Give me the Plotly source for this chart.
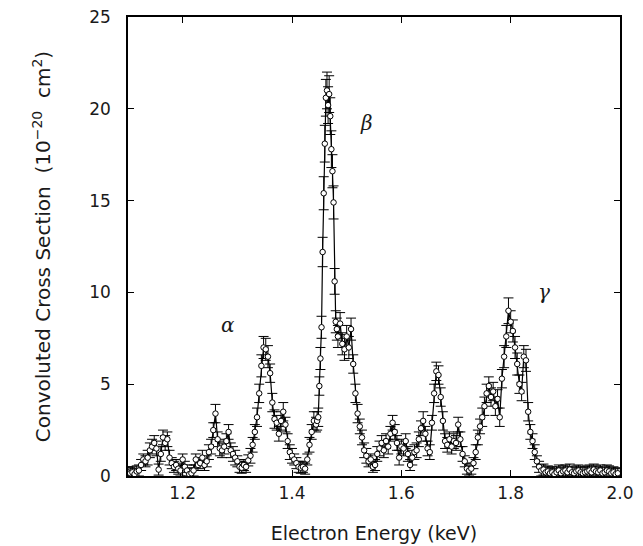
import plotly.graph_objects as go

# Electron energy (keV)
energy = [
    1.100, 1.104, 1.108, 1.112, 1.116, 1.120, 1.124, 1.128, 1.132, 1.136,
    1.140, 1.144, 1.148, 1.152, 1.156, 1.160, 1.164, 1.168, 1.172, 1.176,
    1.180, 1.184, 1.188, 1.192, 1.196, 1.200, 1.204, 1.208, 1.212, 1.216,
    1.220, 1.224, 1.228, 1.232, 1.236, 1.240, 1.244, 1.248, 1.252, 1.256,
    1.260, 1.264, 1.268, 1.272, 1.276, 1.280, 1.284, 1.288, 1.292, 1.296,
    1.300, 1.304, 1.308, 1.312, 1.316, 1.320, 1.324, 1.328, 1.332, 1.336,
    1.340, 1.344, 1.348, 1.352, 1.356, 1.360, 1.364, 1.368, 1.372, 1.376,
    1.380, 1.384, 1.388, 1.392, 1.396, 1.400, 1.404, 1.408, 1.412, 1.416,
    1.420, 1.424, 1.428, 1.432, 1.436, 1.440, 1.444,
    1.446, 1.448, 1.450, 1.452, 1.454, 1.456, 1.458, 1.460, 1.462, 1.464,
    1.466, 1.468, 1.470, 1.472, 1.474, 1.476, 1.478, 1.480, 1.482, 1.484,
    1.488, 1.492, 1.496, 1.500, 1.504, 1.508, 1.512, 1.516, 1.520,
    1.524, 1.528, 1.532, 1.536, 1.540, 1.544, 1.548, 1.552, 1.556,
    1.560, 1.564, 1.568, 1.572, 1.576, 1.580, 1.584, 1.588, 1.592, 1.596,
    1.600, 1.604, 1.608, 1.612, 1.616, 1.620, 1.624, 1.628, 1.632, 1.636,
    1.640, 1.644, 1.648, 1.652, 1.656, 1.660, 1.664, 1.668, 1.672, 1.676,
    1.680, 1.684, 1.688, 1.692, 1.696, 1.700, 1.704, 1.708, 1.712, 1.716,
    1.720, 1.724, 1.728, 1.732, 1.736, 1.740, 1.744, 1.748, 1.752, 1.756,
    1.760, 1.764, 1.768, 1.772, 1.776, 1.780, 1.784, 1.788, 1.792, 1.796,
    1.800, 1.804, 1.808, 1.812, 1.816, 1.820, 1.824, 1.828, 1.832, 1.836,
    1.840, 1.844, 1.848, 1.852, 1.856, 1.860, 1.864, 1.868, 1.872, 1.876,
    1.880, 1.884, 1.888, 1.892, 1.896, 1.900, 1.904, 1.908, 1.912, 1.916,
    1.920, 1.924, 1.928, 1.932, 1.936, 1.940, 1.944, 1.948, 1.952, 1.956,
    1.960, 1.964, 1.968, 1.972, 1.976, 1.980, 1.984, 1.988, 1.992, 1.996,
]

# Convoluted cross section (1e-20 cm^2)
cross_section = [
    0.20, 0.15, 0.20, 0.10, 0.25, 0.30, 0.60, 0.90, 0.80, 1.00,
    1.40, 1.60, 1.80, 1.50, 0.35, 1.20, 2.10, 1.80, 2.00, 1.00,
    0.70, 0.50, 0.60, 0.40, 0.30, 0.90, 0.50, 0.30, 0.10, 0.15,
    0.30, 0.90, 0.60, 0.70, 1.00, 0.60, 0.80, 1.30, 1.60, 2.50,
    3.40, 2.00, 1.50, 1.40, 1.60, 1.90, 2.40, 1.40, 1.20, 1.00,
    0.80, 0.50, 0.45, 0.60, 0.50, 0.85, 1.10, 1.70, 2.40, 3.20,
    4.50, 6.00, 7.00, 6.90, 6.50, 5.60, 4.00, 3.10, 2.90, 2.30,
    3.00, 3.50, 2.80, 1.90, 1.30, 1.10, 0.90, 0.70, 0.50, 0.45,
    0.50, 0.40, 0.90, 1.70, 2.40, 3.00, 2.80,
    3.00, 3.20, 4.90, 6.40, 8.10, 12.2, 15.4, 18.1, 20.6, 21.0,
    20.2, 20.8, 19.6, 17.8, 16.6, 14.9, 10.6, 8.40, 8.00, 7.60,
    8.30, 7.20, 6.90, 7.60, 7.00, 8.00, 6.10, 4.50, 3.40,
    2.70, 2.10, 1.40, 1.10, 0.80, 0.90, 0.50, 0.60, 1.20,
    1.50, 1.80, 1.40, 1.90, 1.60, 2.30, 2.90, 2.40, 1.80, 1.00,
    1.60, 1.50, 1.90, 1.20, 0.60, 1.00, 1.30, 1.40, 2.00, 2.60,
    3.00, 2.30, 1.50, 1.30, 2.90, 4.50, 5.70, 5.50, 4.30, 3.00,
    1.90, 1.70, 2.00, 1.60, 1.90, 1.80, 2.80, 2.00, 1.20, 0.80,
    0.40, 0.30, 0.40, 0.70, 1.30, 2.10, 2.70, 3.20, 3.80, 4.50,
    4.90, 4.30, 4.60, 3.80, 4.20, 3.20, 5.30, 6.50, 7.60, 9.00,
    8.40, 7.90, 7.00, 6.10, 5.00, 4.60, 6.50, 6.30, 3.50, 2.40,
    1.90, 1.30, 0.80, 0.50, 0.30, 0.35, 0.20, 0.25, 0.15, 0.20,
    0.10, 0.20, 0.30, 0.15, 0.25, 0.30, 0.20, 0.35, 0.20, 0.15,
    0.25, 0.30, 0.20, 0.15, 0.20, 0.25, 0.30, 0.20, 0.35, 0.25,
    0.20, 0.30, 0.15, 0.20, 0.30, 0.25, 0.15, 0.20, 0.10, 0.15,
]

# Error bar half-heights
uncertainty = [
    0.3, 0.3, 0.3, 0.3, 0.3, 0.3, 0.3, 0.3, 0.3, 0.4,
    0.4, 0.4, 0.4, 0.4, 0.3, 0.4, 0.4, 0.4, 0.4, 0.4,
    0.3, 0.3, 0.3, 0.3, 0.3, 0.3, 0.3, 0.3, 0.3, 0.3,
    0.3, 0.3, 0.3, 0.3, 0.4, 0.3, 0.3, 0.4, 0.4, 0.4,
    0.5, 0.4, 0.4, 0.4, 0.4, 0.4, 0.4, 0.4, 0.4, 0.4,
    0.3, 0.3, 0.3, 0.3, 0.3, 0.3, 0.4, 0.4, 0.4, 0.5,
    0.5, 0.6, 0.6, 0.6, 0.6, 0.5, 0.5, 0.5, 0.4, 0.4,
    0.5, 0.5, 0.4, 0.4, 0.4, 0.4, 0.3, 0.3, 0.3, 0.3,
    0.3, 0.3, 0.3, 0.4, 0.4, 0.5, 0.4,
    0.5, 0.5, 0.5, 0.6, 0.6, 0.8, 0.9, 1.0, 1.0, 1.0,
    1.0, 1.0, 1.0, 1.0, 0.9, 0.9, 0.7, 0.6, 0.6, 0.6,
    0.6, 0.6, 0.6, 0.6, 0.6, 0.6, 0.5, 0.5, 0.5,
    0.4, 0.4, 0.4, 0.4, 0.3, 0.3, 0.3, 0.3, 0.4,
    0.4, 0.4, 0.4, 0.4, 0.4, 0.4, 0.4, 0.4, 0.4, 0.4,
    0.4, 0.4, 0.4, 0.4, 0.3, 0.4, 0.4, 0.4, 0.4, 0.4,
    0.5, 0.4, 0.4, 0.4, 0.4, 0.5, 0.5, 0.5, 0.5, 0.5,
    0.4, 0.4, 0.4, 0.4, 0.4, 0.4, 0.4, 0.4, 0.4, 0.3,
    0.3, 0.3, 0.3, 0.3, 0.4, 0.4, 0.4, 0.5, 0.5, 0.5,
    0.5, 0.5, 0.5, 0.5, 0.5, 0.5, 0.5, 0.6, 0.6, 0.7,
    0.6, 0.6, 0.6, 0.6, 0.5, 0.5, 0.6, 0.6, 0.5, 0.4,
    0.4, 0.4, 0.3, 0.3, 0.3, 0.3, 0.3, 0.3, 0.3, 0.3,
    0.3, 0.3, 0.3, 0.3, 0.3, 0.3, 0.3, 0.3, 0.3, 0.3,
    0.3, 0.3, 0.3, 0.3, 0.3, 0.3, 0.3, 0.3, 0.3, 0.3,
    0.3, 0.3, 0.3, 0.3, 0.3, 0.3, 0.3, 0.3, 0.3, 0.3,
]

peak_labels = ["α", "β", "γ"]
peak_label_x = [1.2835, 1.5367, 1.8615]
peak_label_y = [8.2, 19.2, 10.0]

x_ticks = [1.2, 1.4, 1.6, 1.8, 2.0]
x_tick_text = ["1.2", "1.4", "1.6", "1.8", "2.0"]
y_ticks = [0, 5, 10, 15, 20, 25]

FONT = "DejaVu Sans"
INK = "#1a1a1a"

fig = go.Figure()
fig.add_trace(go.Scatter(
    x=energy, y=cross_section,
    mode="lines+markers",
    line=dict(color="black", width=1.2),
    marker=dict(symbol="circle", size=5.5, color="white",
                line=dict(color="black", width=1)),
    error_y=dict(type="data", array=uncertainty, visible=True,
                 color="black", thickness=1, width=5),
    showlegend=False,
))

for lab, lx, ly in zip(peak_labels, peak_label_x, peak_label_y):
    fig.add_annotation(x=lx, y=ly, xref="x", yref="y", text=f"<i>{lab}</i>",
                       showarrow=False, font=dict(family="DejaVu Serif", size=20, color=INK))

axis_common = dict(
    showline=True, linecolor="black", linewidth=1.5, mirror="ticks",
    ticks="inside", ticklen=6, tickwidth=1.3, tickcolor="black",
    showgrid=False, zeroline=False, automargin=False,
    ticklabeloverflow="allow",
    tickfont=dict(family=FONT, size=17, color=INK),
)

# page body has an 8px margin, so the figure is sized/offset to compensate
fig.update_layout(
    width=635, height=538,
    margin=dict(l=120, r=23, t=9, b=70, autoexpand=False),
    paper_bgcolor="white", plot_bgcolor="white",
    xaxis=dict(range=[1.1, 2.0], tickvals=x_ticks, ticktext=x_tick_text,
               ticklabelstandoff=1,
               title=dict(text="Electron Energy (keV)",
                          font=dict(family=FONT, size=19, color=INK), standoff=25),
               **axis_common),
    yaxis=dict(range=[0, 25], tickvals=y_ticks, ticklabelstandoff=12,
               title=dict(text="Convoluted Cross Section  (10<sup>−20</sup>  cm<sup>2</sup>)",
                          font=dict(family=FONT, size=20, color=INK), standoff=33),
               **axis_common),
)

fig.write_html("out.html")
